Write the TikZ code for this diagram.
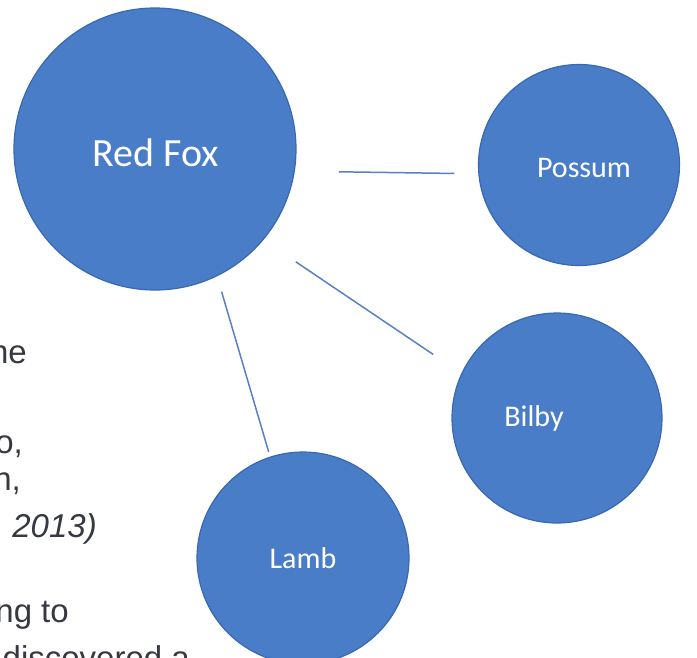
\documentclass[tikz,border=0pt]{standalone}
\usepackage{fontspec}
\setmainfont{Carlito}
\newfontfamily\bodyfont{Liberation Sans}
\definecolor{circblue}{RGB}{74,125,200}
\definecolor{circedge}{RGB}{56,104,178}
\definecolor{linkblue}{RGB}{88,128,194}
\definecolor{bodygrey}{RGB}{55,57,66}

\begin{document}
\begin{tikzpicture}[x=1pt,y=-1pt,
    animal/.style={circle,fill=circblue,draw=circedge,line width=1.2pt,inner sep=0pt},
    animaltext/.style={text=white,inner sep=0pt,font=\fontsize{30}{36}\selectfont},
    link/.style={draw=linkblue,line width=1.5pt},
    bodytext/.style={anchor=base east,inner sep=0pt,text=bodygrey,font=\bodyfont\fontsize{33}{40}\selectfont}]
    \useasboundingbox (0,0) rectangle (697,657);
    \clip (0,0) rectangle (697,657); % Clips the picture...

    % page text behind the diagram
    \foreach \x/\y/\txt in {27/363/he,23/453/{o,},21/490/{n,},69/622/ng to,190/669/discovered a}{
        \node[bodytext] at (\x,\y) {\txt};
    }
    \node[bodytext] (year) at (97,537) {\itshape 2013)};

    % the animals
    \node[animal,minimum size=282pt] (fox) at (155,149) {};
    \node[animal,minimum size=201pt] (possum) at (579,165) {};
    \node[animal,minimum size=210pt] (bilby) at (557,418) {};
    \node[animal,minimum size=212pt] (lamb) at (303,558) {};

    \node[animaltext,font=\fontsize{40}{48}\selectfont] (foxtext) at ([shift={(1,4)}]fox.center) {Red Fox};
    \node[animaltext] (possumtext) at ([shift={(5,3)}]possum.center) {Possum};
    \node[animaltext] (bilbytext) at ([shift={(-23,0)}]bilby.center) {Bilby};
    \node[animaltext] (lambtext) at (lamb.center) {Lamb};

    % links
    \draw[link,shorten <=44pt,shorten >=24pt] (fox.-9.8) -- (possum.185.2);
    \draw[link,shorten <=39pt,shorten >=34pt] (fox.-40) -- (bilby.155);
    \draw[link,shorten <=16pt,shorten >=5pt] (fox.-64.4) -- (lamb.108);
\end{tikzpicture}
\end{document}
